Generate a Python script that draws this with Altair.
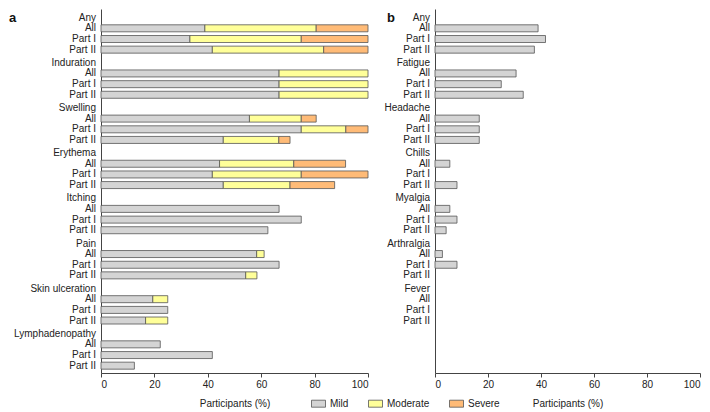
import altair as alt
import pandas as pd

FONT = "Liberation Sans"
FS = 10

# ---------------- data ----------------
subgroups = ["All", "Part I", "Part II"]

local_groups = ["Any", "Induration", "Swelling", "Erythema", "Itching",
                "Pain", "Skin ulceration", "Lymphadenopathy"]
# per group: [All, Part I, Part II]  (segment sizes, %)
local_mild = [[38.9, 33.3, 41.7], [66.7, 66.7, 66.7], [55.6, 75.0, 45.8],
              [44.4, 41.7, 45.8], [66.7, 75.0, 62.5], [58.3, 66.7, 54.2],
              [19.4, 25.0, 16.7], [22.2, 41.7, 12.5]]
local_moderate = [[41.7, 41.7, 41.7], [33.3, 33.3, 33.3], [19.4, 16.7, 20.8],
                  [27.8, 33.3, 25.0], [0, 0, 0], [2.8, 0, 4.2],
                  [5.6, 0, 8.3], [0, 0, 0]]
local_severe = [[19.4, 25.0, 16.6], [0, 0, 0], [5.6, 8.3, 4.2],
                [19.4, 25.0, 16.7], [0, 0, 0], [0, 0, 0],
                [0, 0, 0], [0, 0, 0]]

systemic_groups = ["Any", "Fatigue", "Headache", "Chills", "Myalgia",
                   "Arthralgia", "Fever"]
systemic_mild = [[38.9, 41.7, 37.5], [30.6, 25.0, 33.3], [16.7, 16.7, 16.7],
                 [5.6, 0, 8.3], [5.6, 8.3, 4.2], [2.8, 8.3, 0], [0, 0, 0]]

severity_levels = ["Mild", "Moderate", "Severe"]
severity_colors = ["#d4d4d4", "#ffff99", "#ffbb77"]
x_ticks = [0, 20, 40, 60, 80, 100]

# layout of rows inside a group (row units; one group = 4 units)
ROW_OFFSETS = [0.93, 1.88, 2.82]
GROUP_STEP = 4.0
Y_DOMAIN = [-0.78, 31.47]
W_LEFT, W_RIGHT, H = 267, 265, 364


def build(groups, series):
    segs, labels = [], []
    for gi, g in enumerate(groups):
        base = gi * GROUP_STEP
        labels.append({"label": g, "pos": base})
        for si, sub in enumerate(subgroups):
            pos = base + ROW_OFFSETS[si]
            labels.append({"label": sub, "pos": pos})
            start = 0.0
            for level, vals in series:
                v = vals[gi][si]
                if v > 0:
                    segs.append({"severity": level, "start": start,
                                 "end": start + v, "pos": pos})
                start += v
    return pd.DataFrame(segs), pd.DataFrame(labels)


local_seg, local_lab = build(local_groups, [("Mild", local_mild),
                                            ("Moderate", local_moderate),
                                            ("Severe", local_severe)])
sys_seg, sys_lab = build(systemic_groups, [("Mild", systemic_mild)])


def panel(seg, labels, letter, letter_dx, width, with_color):
    y_enc = alt.Y("pos:Q",
                  scale=alt.Scale(domain=Y_DOMAIN, reverse=True, nice=False,
                                  zero=False, padding=0),
                  axis=alt.Axis(labels=False, ticks=False, title=None, grid=False,
                                domainColor="#444"))
    x_enc = alt.X("start:Q", scale=alt.Scale(domain=[0, 100], nice=False, padding=0),
                  axis=alt.Axis(values=x_ticks, title="Participants (%)", grid=False))
    bars = alt.Chart(seg).mark_bar(size=7, stroke="#555", strokeWidth=0.8,
                                   orient="horizontal")
    if with_color:
        bars = bars.encode(
            x=x_enc, x2="end:Q", y=y_enc,
            color=alt.Color("severity:N",
                            scale=alt.Scale(domain=severity_levels, range=severity_colors),
                            legend=alt.Legend(orient="none", direction="horizontal",
                                              legendX=210, legendY=387, title=None,
                                              symbolType="M-1,-0.5H1V0.5H-1Z",
                                              symbolSize=196, symbolStrokeColor="#555",
                                              symbolStrokeWidth=0.8, labelOffset=4,
                                              columnPadding=17, labelFontSize=FS,
                                              labelColor="#222", labelFont=FONT)),
        )
    else:
        bars = bars.encode(x=x_enc, x2="end:Q", y=y_enc, fill=alt.value("#d4d4d4"))
    text = alt.Chart(labels).mark_text(align="right", baseline="middle", fontSize=FS,
                                       font=FONT, color="#222").encode(
        x=alt.value(-5), y=alt.Y("pos:Q"), text="label:N")
    let = alt.Chart(pd.DataFrame({"t": [letter]})).mark_text(
        align="left", baseline="middle", fontSize=13, fontWeight="bold",
        font=FONT, color="#111").encode(x=alt.value(letter_dx), y=alt.value(9), text="t:N")
    return alt.layer(bars, text, let).properties(width=width, height=H)


left = panel(local_seg, local_lab, "a", -92, W_LEFT, True)
right = panel(sys_seg, sys_lab, "b", -48, W_RIGHT, False)

chart = alt.hconcat(left, right, spacing=67, bounds="flush").properties(
    padding={"left": 0, "top": 0, "right": 0, "bottom": 0}
).configure_view(stroke="transparent").configure_axis(
    labelFont=FONT, titleFont=FONT, labelFontSize=FS, titleFontSize=FS,
    labelColor="#222", titleColor="#222", titleFontWeight="normal",
    tickColor="#444", domainColor="#444", tickSize=4, labelPadding=2,
    titlePadding=9
)

chart.save("out.html", embed_options={"renderer": "svg", "actions": False})
